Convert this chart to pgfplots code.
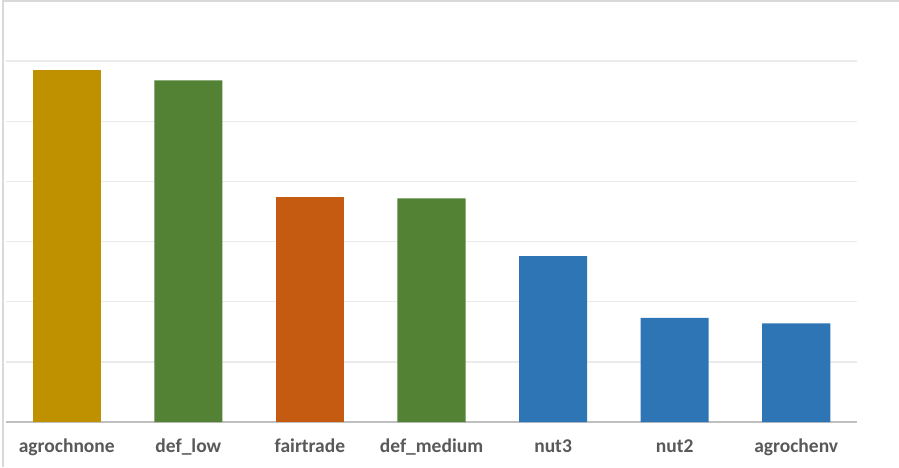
\documentclass[border=0pt]{standalone}
\usepackage{pgfplots}
\pgfplotsset{compat=1.18}
\usepackage{fontspec}
\setmainfont{Carlito}
\definecolor{gold}{HTML}{BF9000}
\definecolor{leaf}{HTML}{548235}
\definecolor{rust}{HTML}{C55A11}
\definecolor{steel}{HTML}{2E75B6}
\definecolor{labelgray}{HTML}{595959}
\definecolor{gridgray}{HTML}{EBEBEB}
\definecolor{basegray}{HTML}{BFBFBF}
\definecolor{framegray}{HTML}{D9D9D9}
\begin{document}
\begin{tikzpicture}
\path[use as bounding box] (0,0) rectangle (899pt,467pt);
\fill[white] (0,0) rectangle (899pt,467pt);
\draw[framegray, line width=1.5pt] (3pt,0) -- (3pt,466pt) -- (899pt,466pt);
\begin{axis}[
  at={(6pt,45pt)}, anchor=south west,
  width=851pt, height=421pt, scale only axis,
  ybar, bar width=0.56, bar shift=0pt,
  xmin=-0.5, xmax=6.5, ymin=0, ymax=7,
  xtick={0,...,6},
  xticklabels={agrochnone,def\_low,fairtrade,def\_medium,nut3,nut2,agrochenv},
  xticklabel style={font=\fontsize{19.5}{20}\selectfont\bfseries, text=labelgray, anchor=base, yshift=-30pt},
  major tick length=0pt,
  ytick={1,...,6}, yticklabels={},
  ymajorgrids, grid style={gridgray, line width=1.5pt},
  axis x line*=bottom,
  axis y line*=left,
  y axis line style={draw=none},
  x axis line style={basegray, line width=2pt, -},
  clip=false,
]
\addplot[fill=gold, draw=none] coordinates {(0,5.86)};
\addplot[fill=leaf, draw=none] coordinates {(1,5.68) (3,3.72)};
\addplot[fill=rust, draw=none] coordinates {(2,3.74)};
\addplot[fill=steel, draw=none] coordinates {(4,2.76) (5,1.73) (6,1.64)};
\end{axis}
\end{tikzpicture}
\end{document}
